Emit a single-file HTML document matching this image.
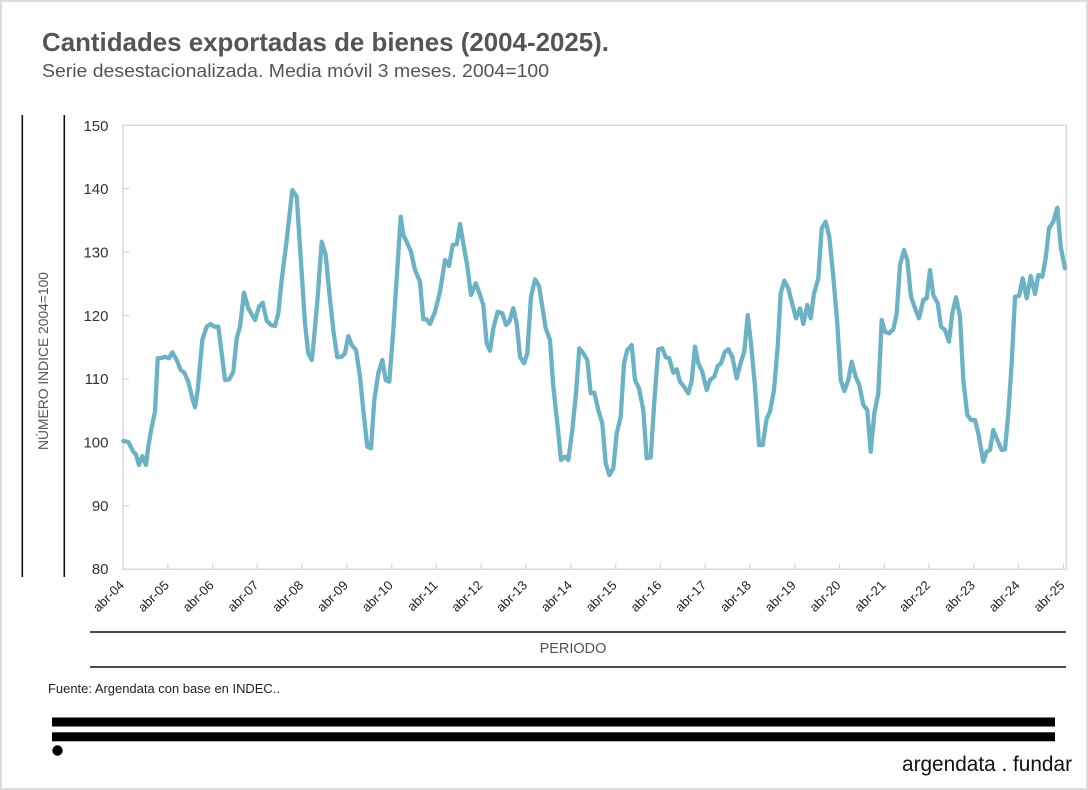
<!DOCTYPE html>
<html>
<head>
<meta charset="utf-8">
<style>
  html, body { margin: 0; padding: 0; background: #ffffff; }
  svg { display: block; }
  text { font-family: "Liberation Sans", "DejaVu Sans", sans-serif; }
</style>
</head>
<body>
<svg width="1088" height="790" viewBox="0 0 1088 790" xmlns="http://www.w3.org/2000/svg">
  <!-- outer frame -->
  <rect x="1" y="1" width="1086" height="788" fill="#ffffff" stroke="#dcdcdc" stroke-width="2"/>

  <!-- title -->
  <text x="42" y="51" font-size="26" font-weight="bold" fill="#555555" textLength="567" lengthAdjust="spacingAndGlyphs">Cantidades exportadas de bienes (2004-2025).</text>
  <text x="42" y="77" font-size="18" fill="#555555" textLength="507" lengthAdjust="spacingAndGlyphs">Serie desestacionalizada. Media móvil 3 meses. 2004=100</text>

  <!-- left vertical bars around y-axis title -->
  <line x1="22.3" y1="115" x2="22.3" y2="577" stroke="#111" stroke-width="1.6"/>
  <line x1="64.3" y1="115" x2="64.3" y2="577" stroke="#111" stroke-width="1.6"/>
  <text x="0" y="0" font-size="14" fill="#555555" text-anchor="middle" transform="translate(48,361) rotate(-90)" textLength="178" lengthAdjust="spacingAndGlyphs">NÚMERO INDICE 2004=100</text>

  <!-- plot box -->
  <rect x="123" y="125.3" width="943.4" height="444" fill="none" stroke="#d9d9d9" stroke-width="1.5"/>

  <!-- y ticks (inward) -->
  <g stroke="#d9d9d9" stroke-width="1.3">
    <line x1="123" y1="188.7" x2="129" y2="188.7"/>
    <line x1="123" y1="252.1" x2="129" y2="252.1"/>
    <line x1="123" y1="315.5" x2="129" y2="315.5"/>
    <line x1="123" y1="378.9" x2="129" y2="378.9"/>
    <line x1="123" y1="442.3" x2="129" y2="442.3"/>
    <line x1="123" y1="505.7" x2="129" y2="505.7"/>
  </g>

  <!-- y labels -->
  <g font-size="15" fill="#333333" text-anchor="end">
    <text x="108.5" y="131">150</text>
    <text x="108.5" y="194">140</text>
    <text x="108.5" y="257.5">130</text>
    <text x="108.5" y="321">120</text>
    <text x="108.5" y="384">110</text>
    <text x="108.5" y="447.5">100</text>
    <text x="108.5" y="511">90</text>
    <text x="108.5" y="574">80</text>
  </g>

  <!-- x ticks (inward) -->
  <g stroke="#d9d9d9" stroke-width="1.3">
    <line x1="167.8" y1="569.3" x2="167.8" y2="563.5"/>
    <line x1="212.6" y1="569.3" x2="212.6" y2="563.5"/>
    <line x1="257.3" y1="569.3" x2="257.3" y2="563.5"/>
    <line x1="302.1" y1="569.3" x2="302.1" y2="563.5"/>
    <line x1="346.9" y1="569.3" x2="346.9" y2="563.5"/>
    <line x1="391.7" y1="569.3" x2="391.7" y2="563.5"/>
    <line x1="436.5" y1="569.3" x2="436.5" y2="563.5"/>
    <line x1="481.2" y1="569.3" x2="481.2" y2="563.5"/>
    <line x1="526.0" y1="569.3" x2="526.0" y2="563.5"/>
    <line x1="570.8" y1="569.3" x2="570.8" y2="563.5"/>
    <line x1="615.6" y1="569.3" x2="615.6" y2="563.5"/>
    <line x1="660.4" y1="569.3" x2="660.4" y2="563.5"/>
    <line x1="705.1" y1="569.3" x2="705.1" y2="563.5"/>
    <line x1="749.9" y1="569.3" x2="749.9" y2="563.5"/>
    <line x1="794.7" y1="569.3" x2="794.7" y2="563.5"/>
    <line x1="839.5" y1="569.3" x2="839.5" y2="563.5"/>
    <line x1="884.3" y1="569.3" x2="884.3" y2="563.5"/>
    <line x1="929.0" y1="569.3" x2="929.0" y2="563.5"/>
    <line x1="973.8" y1="569.3" x2="973.8" y2="563.5"/>
    <line x1="1018.6" y1="569.3" x2="1018.6" y2="563.5"/>
    <line x1="1063.4" y1="569.3" x2="1063.4" y2="563.5"/>
  </g>

  <!-- x labels -->
  <g font-size="13" fill="#222222" text-anchor="end">
    <text transform="translate(125,586) rotate(-45)">abr-04</text>
    <text transform="translate(169.8,586) rotate(-45)">abr-05</text>
    <text transform="translate(214.6,586) rotate(-45)">abr-06</text>
    <text transform="translate(259.3,586) rotate(-45)">abr-07</text>
    <text transform="translate(304.1,586) rotate(-45)">abr-08</text>
    <text transform="translate(348.9,586) rotate(-45)">abr-09</text>
    <text transform="translate(393.7,586) rotate(-45)">abr-10</text>
    <text transform="translate(438.5,586) rotate(-45)">abr-11</text>
    <text transform="translate(483.2,586) rotate(-45)">abr-12</text>
    <text transform="translate(528.0,586) rotate(-45)">abr-13</text>
    <text transform="translate(572.8,586) rotate(-45)">abr-14</text>
    <text transform="translate(617.6,586) rotate(-45)">abr-15</text>
    <text transform="translate(662.4,586) rotate(-45)">abr-16</text>
    <text transform="translate(707.1,586) rotate(-45)">abr-17</text>
    <text transform="translate(751.9,586) rotate(-45)">abr-18</text>
    <text transform="translate(796.7,586) rotate(-45)">abr-19</text>
    <text transform="translate(841.5,586) rotate(-45)">abr-20</text>
    <text transform="translate(886.3,586) rotate(-45)">abr-21</text>
    <text transform="translate(931.0,586) rotate(-45)">abr-22</text>
    <text transform="translate(975.8,586) rotate(-45)">abr-23</text>
    <text transform="translate(1020.6,586) rotate(-45)">abr-24</text>
    <text transform="translate(1065.4,586) rotate(-45)">abr-25</text>
  </g>

  <!-- data series -->
  <polyline fill="none" stroke="#6bb3c4" stroke-width="4.3" stroke-linejoin="round" stroke-linecap="round" points="
123.3,441 128.3,442 133.3,451.7 135.7,454 139,465 142.3,456 146,465 148.3,446.7 151.7,426.7 155,411.7
157.7,358.3 161.7,358 165,356.7 169,358.3 172.3,352.3 176.7,360 180.7,370 184.3,372.7 188.3,381.7 192.3,398.3
195,407.3 197.7,390 202.3,340 206.7,326.7 210.7,324 214.3,326.7 218.3,326.7 221.7,353.3 225,380 229.3,379.3
233.3,371.7 236.7,338.3 240,326.7 244,292.7 248.3,308.3 255,320 259,306.7 262.7,302.7 266.7,320.7 271,325
275,326 278.3,313.3 281.7,280 286.7,240 292.3,190 296.7,196.7 300,246.7 305,323.3 308.3,353.3 311.7,360
313.3,346.7 317.7,296.7 321.7,241.7 325.7,255 329,290 333.3,330 337.3,357.3 341.7,356.7 345,353.3 348.3,336
351.7,345 356,350 360,376.7 363.3,410 367.3,446.7 371,448.3 374.3,400 378.3,373.3 382.3,360 385.7,380
389.3,381.7 393.3,330 397.7,263.3 400.7,216.7 403.3,235 406.7,241.7 411,251.7 415,270 420,281.7 423.3,319.3
426.7,319.3 430,324 435,311.7 440,291.7 445,260 449,266 452.7,245 456.7,244.3 460,224 463.3,243.3
467.3,266 471,295 475.7,283.3 478.3,290 483.3,305 486.7,343.3 490,350.7 493.3,328.3 497.7,311.7 502.3,313.3
506,325 509.3,321.7 513.3,308.3 516.7,323.3 520,356.7 524,363.3 527.3,353.3 531,296.7 535,279.3 539,286
542.3,306.7 545.7,328.3 550,340 553.3,386.7 557.7,426.7 561,460 565,456.7 568.3,460 572.3,430 576,393.3
579.3,348.3 583.3,353.3 587.3,360 590.7,393.3 594.3,392.7 598.3,410 602.3,423.3 605.7,463.3 609.3,475 613.3,468.3
616.7,433.3 620.7,416.7 624,363.3 627.3,350 631.7,345 635,380 639,388.3 643.3,410 646.7,458.3 650.7,457.3
654.3,401.7 658.3,349.3 662.3,348.3 665.7,357.3 669.3,358.3 673.3,372.7 676.7,369.3 680,381.7 684,386.7 688.3,393.3
691.7,381 695,346.7 698.3,363.3 702.3,371.7 706.7,390 710,380 714.3,376.7 717.7,366 721,363.3 725,351.7
728.3,349.3 732.3,356.7 736.7,378.3 740,365 744.3,351.7 747.7,315 751,343.3 755,386.7 759,445 762.7,445
766.7,418.3 770,411.7 774,390 777.7,346.7 780.7,293.3 784.3,280.7 788.3,288.3 791.7,301.7 796,318.3 800,308.3
803.3,324 807.3,305 810.7,318.3 814,293.3 818.3,278.3 821.7,228.3 825.7,221.7 829.3,236.7 833.3,276.7 837.3,323.3
840.7,380 844.3,391 848.3,380 851.7,361.7 855.7,376.7 859.3,385 863.3,405 867.3,410 870.7,451.7 874.3,413.3
878.3,393.3 881.7,320 885,331.7 889,333.3 893.3,329.3 896.7,313.3 900,265 904,250 907.3,260 911,296.7
915,308.3 919,318.3 923.3,300 926.7,298.3 930,270 933.3,295 937.7,303.3 941,326.7 945,330 949,341.7
952.3,313.3 956,297.3 960,316.7 963.3,380 967.3,415 971,420 975,420 978.3,433.3 983.3,461.7 986.7,451.7
990,450 993.3,430 997.3,440 1001.7,450 1005,449.3 1008.3,413.3 1011.7,363.3 1015,296.7 1019,296 1022.7,278.3
1026.7,298.3 1030.7,276 1035,294 1038.3,275 1042.3,276.7 1045.7,258.3 1049,228.3 1053.3,221.7 1057.3,207.7 1060.7,246.7
1065,268.3"/>

  <!-- x axis title band -->
  <line x1="90" y1="632" x2="1066" y2="632" stroke="#111" stroke-width="1.6"/>
  <text x="573" y="653" font-size="14.5" fill="#555555" text-anchor="middle">PERIODO</text>
  <line x1="90" y1="667" x2="1066" y2="667" stroke="#111" stroke-width="1.6"/>

  <!-- source -->
  <text x="48" y="693" font-size="12.5" fill="#222222" textLength="232" lengthAdjust="spacingAndGlyphs">Fuente: Argendata con base en INDEC..</text>

  <!-- footer bars -->
  <rect x="52" y="717.5" width="1003" height="9" fill="#000"/>
  <rect x="52" y="732.3" width="1003" height="9" fill="#000"/>
  <circle cx="57.5" cy="750.5" r="5.2" fill="#000"/>

  <!-- logo -->
  <text x="902" y="771" font-size="21" fill="#111111" textLength="170" lengthAdjust="spacingAndGlyphs">argendata . fundar</text>
</svg>
</body>
</html>
